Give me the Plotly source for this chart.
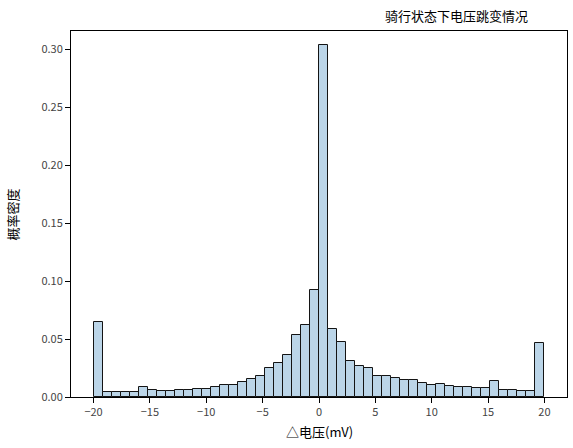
import numpy as np
import plotly.graph_objects as go

# Histogram (density) of voltage jumps, 50 bins over [-20, 20] mV
bin_edges = np.linspace(-20, 20, 51)
density = [
    0.0643, 0.0040, 0.0040, 0.0040, 0.0040, 0.0086, 0.0060, 0.0052, 0.0052, 0.0060,
    0.0060, 0.0069, 0.0069, 0.0086, 0.0103, 0.0103, 0.0129, 0.0155, 0.0181, 0.0250,
    0.0293, 0.0362, 0.0534, 0.0621, 0.0922, 0.3034, 0.0586, 0.0474, 0.0310, 0.0267,
    0.0250, 0.0181, 0.0181, 0.0164, 0.0147, 0.0147, 0.0121, 0.0103, 0.0112, 0.0095,
    0.0086, 0.0086, 0.0078, 0.0078, 0.0138, 0.0060, 0.0060, 0.0052, 0.0052, 0.0466,
]
x_ticks = [-20, -15, -10, -5, 0, 5, 10, 15, 20]
y_ticks = [0.00, 0.05, 0.10, 0.15, 0.20, 0.25, 0.30]
y_tick_labels = ["0.00", "0.05", "0.10", "0.15", "0.20", "0.25", "0.30"]

title_text = "骑行状态下电压跳变情况"
x_label = "△电压(mV)"
y_label = "概率密度"

centers = (bin_edges[:-1] + bin_edges[1:]) / 2
widths = np.diff(bin_edges)

cjk = "Noto Sans CJK SC, DejaVu Sans, sans-serif"

fig = go.Figure(
    go.Bar(
        x=centers,
        y=density,
        width=widths,
        marker=dict(color="rgb(187,213,232)", line=dict(color="rgb(20,20,20)", width=1)),
        hoverinfo="x+y",
    )
)

fig.update_layout(
    width=573,
    height=448,
    autosize=False,
    margin=dict(l=71, r=6, t=31, b=51, pad=0, autoexpand=False),
    paper_bgcolor="white",
    plot_bgcolor="white",
    showlegend=False,
    bargap=0,
    font=dict(family=cjk, size=11, color="#222"),
    annotations=[
        dict(
            text=title_text, xref="paper", yref="paper", x=0.925, y=1.042,
            xanchor="right", yanchor="middle", showarrow=False,
            font=dict(family=cjk, size=13, color="black"),
        ),
        dict(
            text=x_label, xref="paper", yref="paper", x=0.5, y=-0.095,
            xanchor="center", yanchor="middle", showarrow=False,
            font=dict(family=cjk, size=13, color="black"),
        ),
        dict(
            text=y_label, xref="paper", yref="paper", x=-0.118, y=0.5,
            xanchor="center", yanchor="middle", showarrow=False, textangle=-90,
            font=dict(family=cjk, size=13, color="black"),
        ),
    ],
)

fig.update_xaxes(
    range=[-22, 22], automargin=False,
    tickvals=x_ticks,
    ticks="outside", ticklen=5, tickwidth=1, tickcolor="black",
    showline=True, linecolor="black", linewidth=1, mirror=True,
    showgrid=False, zeroline=False,
    tickfont=dict(size=11, color="#444"),
)
fig.update_yaxes(
    range=[0, 0.3158], automargin=False,
    tickvals=y_ticks, ticktext=y_tick_labels,
    ticks="outside", ticklen=5, tickwidth=1, tickcolor="black",
    showline=True, linecolor="black", linewidth=1, mirror=True,
    showgrid=False, zeroline=False,
    tickfont=dict(size=11, color="#444"),
)

fig.write_html(
    "out.html",
    config={"displayModeBar": False},
    post_script="document.body.style.margin='0';document.body.style.overflow='hidden';",
)
